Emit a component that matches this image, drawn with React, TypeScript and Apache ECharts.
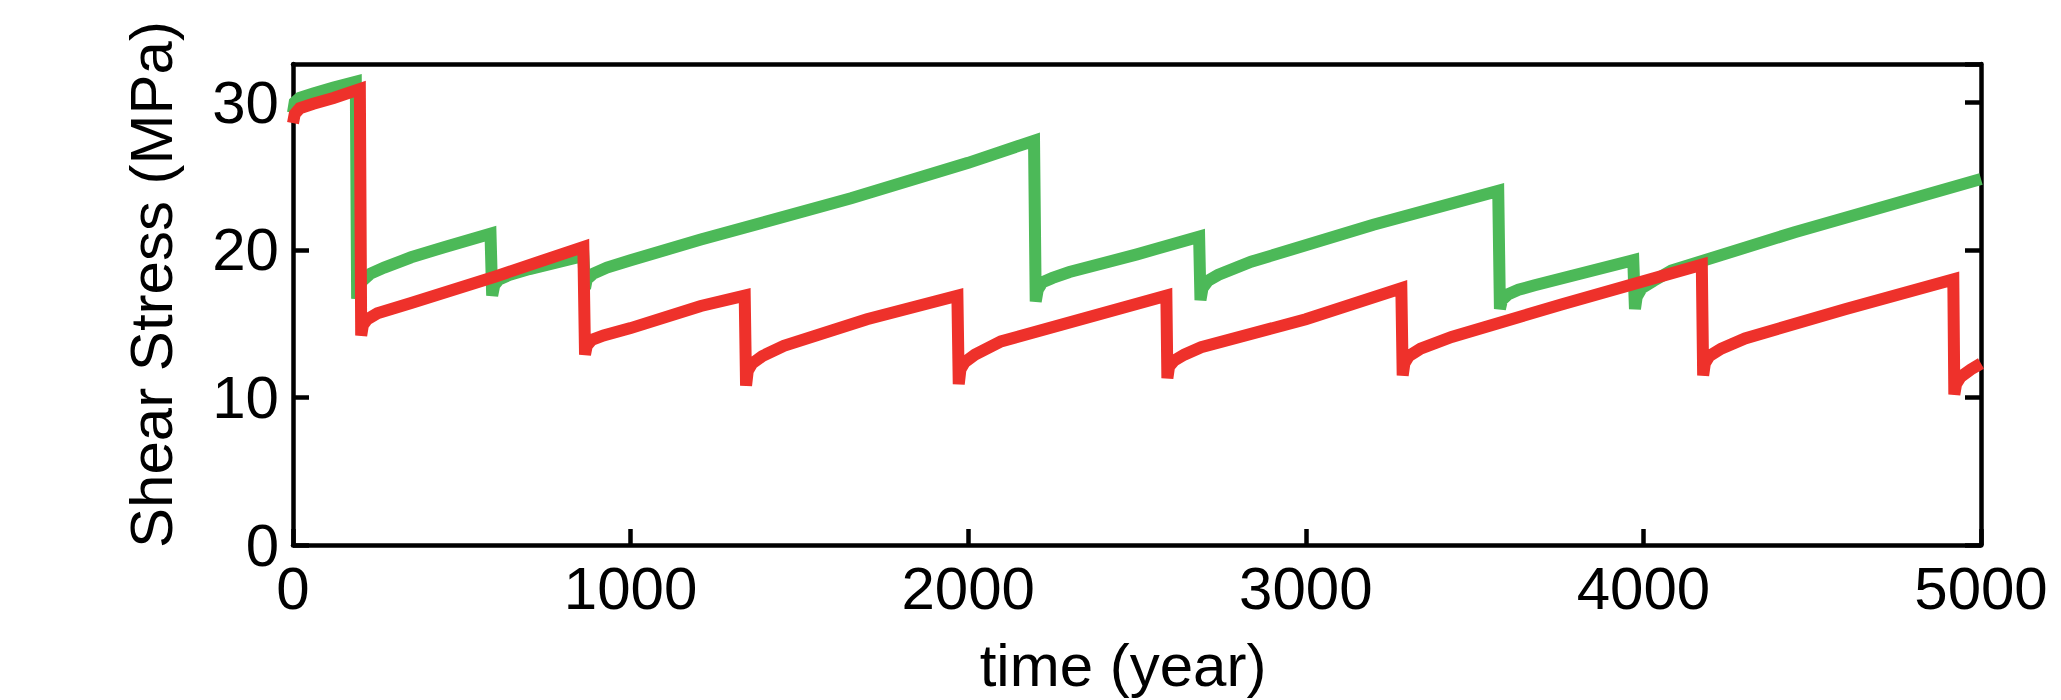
import React, { useEffect, useRef } from "react";
import * as echarts from "echarts";

// Time (year) and shear stress (MPa) samples
const greenTime = [0, 5, 20, 60, 120, 186, 190, 195, 205, 230, 270, 350, 450, 585, 590, 596, 610, 640, 700, 860, 865, 870, 890, 930, 1000, 1208, 1653, 2000, 2195, 2200, 2206, 2220, 2250, 2300, 2500, 2684, 2688, 2694, 2710, 2740, 2838, 3200, 3570, 3575, 3581, 3600, 3630, 3678, 3970, 3975, 3980, 3995, 4030, 4083, 4448, 5000];
const greenStress = [29.3, 30.0, 30.3, 30.6, 31.0, 31.4, 16.7, 17.5, 17.9, 18.4, 18.8, 19.5, 20.2, 21.1, 16.9, 17.6, 18.0, 18.3, 18.7, 19.6, 17.4, 18.0, 18.4, 18.8, 19.3, 20.7, 23.5, 25.9, 27.4, 16.5, 17.3, 17.8, 18.1, 18.5, 19.7, 20.9, 16.6, 17.4, 17.9, 18.3, 19.2, 21.7, 24.0, 16.0, 16.6, 17.0, 17.3, 17.6, 19.3, 16.0, 16.8, 17.4, 17.9, 18.6, 21.2, 24.8];

const redTime = [0, 5, 20, 60, 120, 198, 202, 207, 220, 250, 350, 600, 860, 865, 870, 885, 920, 1000, 1208, 1338, 1342, 1347, 1360, 1390, 1454, 1700, 1968, 1972, 1977, 1990, 2020, 2097, 2587, 2590, 2595, 2610, 2640, 2690, 3000, 3283, 3287, 3292, 3305, 3340, 3432, 3757, 4173, 4177, 4182, 4195, 4230, 4301, 4600, 4918, 4921, 4926, 4940, 4970, 5000];
const redStress = [28.6, 29.2, 29.6, 29.9, 30.3, 30.9, 14.2, 14.9, 15.3, 15.7, 16.4, 18.2, 20.2, 12.9, 13.5, 13.9, 14.2, 14.7, 16.2, 16.9, 10.8, 11.8, 12.3, 12.8, 13.5, 15.3, 16.9, 10.9, 11.9, 12.4, 12.9, 13.8, 16.9, 11.3, 12.1, 12.5, 12.9, 13.4, 15.3, 17.4, 11.5, 12.3, 12.8, 13.3, 14.1, 16.3, 19.0, 11.5, 12.3, 12.8, 13.3, 14.0, 16.0, 18.0, 10.2, 10.9, 11.4, 11.9, 12.3];

const xTicks = [0, 1000, 2000, 3000, 4000, 5000];
const yTicks = [0, 10, 20, 30];

const FONT = "Liberation Sans, Arial, sans-serif";

export default function App() {
  const ref = useRef<HTMLDivElement>(null);

  useEffect(() => {
    if (!ref.current) return;
    const chart = echarts.init(ref.current, null, { renderer: "svg" });
    const green = greenTime.map((t, i) => [t, greenStress[i]]);
    const red = redTime.map((t, i) => [t, redStress[i]]);
    const axisLine = { show: true, onZero: false, lineStyle: { color: "#000", width: 4.5 } };
    const tick = { show: true, inside: true, length: 16, lineStyle: { color: "#000", width: 4.5 } };
    chart.setOption({
      animation: false,
      backgroundColor: "#fff",
      grid: { left: 293, top: 64, right: 80, bottom: 154, containLabel: false },
      xAxis: [
        {
          type: "value",
          position: "bottom",
          min: xTicks[0],
          max: xTicks[xTicks.length - 1],
          interval: 1000,
          axisLine,
          axisTick: tick,
          axisLabel: {
            fontSize: 60,
            color: "#000",
            margin: 13,
            fontFamily: FONT,
            formatter: (v: number) => String(v),
          },
          splitLine: { show: false },
          name: "time (year)",
          nameLocation: "middle",
          nameGap: 90,
          nameTextStyle: { fontSize: 60, color: "#000", fontFamily: FONT, padding: [0, 28, 0, 0] },
        },
        {
          type: "value",
          position: "top",
          min: xTicks[0],
          max: xTicks[xTicks.length - 1],
          interval: 1000,
          axisLine,
          axisTick: { show: false },
          axisLabel: { show: false },
          splitLine: { show: false },
        },
      ],
      yAxis: [
        {
          type: "value",
          position: "left",
          min: yTicks[0],
          max: 32.6,
          interval: 10,
          axisLine,
          axisTick: tick,
          axisLabel: {
            fontSize: 60,
            color: "#000",
            margin: 14,
            fontFamily: FONT,
            showMaxLabel: false,
            formatter: (v: number) => (yTicks.indexOf(v) >= 0 ? String(v) : ""),
          },
          splitLine: { show: false },
          name: "Shear Stress (MPa)",
          nameLocation: "middle",
          nameGap: 112,
          nameTextStyle: { fontSize: 60, color: "#000", fontFamily: FONT, padding: [0, 0, 0, 40] },
        },
        {
          type: "value",
          position: "right",
          min: yTicks[0],
          max: 32.6,
          interval: 10,
          axisLine,
          axisTick: tick,
          axisLabel: { show: false },
          splitLine: { show: false },
        },
      ],
      series: [
        {
          name: "green",
          type: "line",
          xAxisIndex: 0,
          yAxisIndex: 0,
          data: green,
          showSymbol: false,
          symbol: "none",
          lineStyle: { color: "#4CB958", width: 12, join: "miter", cap: "butt" },
        },
        {
          name: "red",
          type: "line",
          xAxisIndex: 0,
          yAxisIndex: 0,
          data: red,
          showSymbol: false,
          symbol: "none",
          lineStyle: { color: "#EE312B", width: 12, join: "miter", cap: "butt" },
        },
      ],
    });
    return () => chart.dispose();
  }, []);

  return (
    <div
      ref={ref}
      style={{ position: "absolute", left: 0, top: 0, width: 2061, height: 700, background: "#fff" }}
    />
  );
}
